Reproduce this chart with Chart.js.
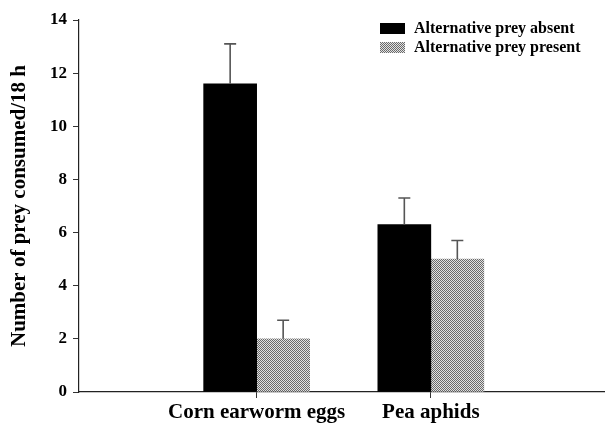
<!DOCTYPE html>
<html>
<head>
<meta charset="utf-8">
<script src="https://cdn.jsdelivr.net/npm/chart.js@4.4.1/dist/chart.umd.min.js"></script>
<style>
  body { margin: 0; background: #fff; }
  canvas { display: block; }
</style>
</head>
<body>
<canvas id="grafik" width="605" height="427"></canvas>
<script>
// Veriler
const categories = ['Corn earworm eggs', 'Pea aphids'];
const seriesNames = ['Alternative prey absent', 'Alternative prey present'];
const absentValues = [11.6, 6.3];
const absentErrors = [1.5, 1.0];
const presentValues = [2.0, 5.0];
const presentErrors = [0.7, 0.7];
const yTicks = [0, 2, 4, 6, 8, 10, 12, 14];

const serif = "'Liberation Serif', 'Times New Roman', serif";

// Noktalı gri desen
function noktaliDesen() {
    const c = document.createElement('canvas');
    c.width = 2;
    c.height = 2;
    const g = c.getContext('2d');
    g.fillStyle = '#e2e2e2';
    g.fillRect(0, 0, 2, 2);
    g.fillStyle = '#6a6a6a';
    g.fillRect(0, 0, 1, 1);
    g.fillRect(1, 1, 1, 1);
    return g.createPattern(c, 'repeat');
}

// Kategori sırası -> x değeri (1, 2)
function toPoints(values) {
    return values.map(function(v, i) { return { x: i + 1, y: v }; });
}

// Hata çubukları (sadece yukarı)
const hataCubuklari = {
    id: 'hataCubuklari',
    afterDatasetsDraw(chart) {
        const ctx = chart.ctx;
        const yScale = chart.scales.y;
        ctx.save();
        ctx.strokeStyle = '#555';
        ctx.lineWidth = 1.6;
        chart.data.datasets.forEach(function(ds, di) {
            const meta = chart.getDatasetMeta(di);
            meta.data.forEach(function(bar, i) {
                const top = yScale.getPixelForValue(ds.data[i].y + ds.errors[i]);
                ctx.beginPath();
                ctx.moveTo(bar.x, bar.y);
                ctx.lineTo(bar.x, top);
                ctx.moveTo(bar.x - 6, top);
                ctx.lineTo(bar.x + 6, top);
                ctx.stroke();
            });
        });
        ctx.restore();
    }
};

// Lejant (sağ üst)
const lejant = {
    id: 'lejant',
    afterDraw(chart) {
        const ctx = chart.ctx;
        ctx.save();
        ctx.font = 'bold 16px ' + serif;
        ctx.textBaseline = 'middle';
        chart.data.datasets.forEach(function(ds, di) {
            const y = 23 + di * 19;
            ctx.fillStyle = ds.backgroundColor;
            ctx.fillRect(380, y, 25, 11);
            ctx.fillStyle = '#000';
            ctx.fillText(ds.label, 414, y + 5.5);
        });
        ctx.restore();
    }
};

const ctx = document.getElementById('grafik').getContext('2d');

new Chart(ctx, {
    type: 'bar',
    data: {
        datasets: [
            {
                label: seriesNames[0],
                data: toPoints(absentValues),
                errors: absentErrors,
                backgroundColor: '#000',
                borderWidth: 0
            },
            {
                label: seriesNames[1],
                data: toPoints(presentValues),
                errors: presentErrors,
                backgroundColor: noktaliDesen(),
                borderWidth: 0
            }
        ]
    },
    options: {
        responsive: false,
        animation: false,
        barThickness: 53,
        layout: {
            padding: { top: 20, right: 0, bottom: 0, left: 0 }
        },
        plugins: {
            legend: { display: false },
            tooltip: { enabled: false }
        },
        scales: {
            x: {
                type: 'linear',
                offset: false,
                min: -0.02,
                max: 3,
                afterBuildTicks: function(scale) {
                    scale.ticks = categories.map(function(c, i) { return { value: i + 1 }; });
                },
                afterFit: function(scale) {
                    scale.height = 35;
                },
                grid: {
                    display: true,
                    offset: false,
                    drawOnChartArea: false,
                    drawTicks: true,
                    tickLength: 6,
                    color: '#333'
                },
                border: { display: true, color: '#222', width: 1.2 },
                ticks: {
                    autoSkip: false,
                    maxRotation: 0,
                    padding: 2,
                    color: '#000',
                    font: { family: serif, size: 21, weight: 'bold' },
                    callback: function(value) {
                        return categories[value - 1] || '';
                    }
                }
            },
            y: {
                min: 0,
                max: 14,
                afterBuildTicks: function(scale) {
                    scale.ticks = yTicks.map(function(v) { return { value: v }; });
                },
                afterFit: function(scale) {
                    scale.width = 79;
                },
                grid: {
                    display: true,
                    drawOnChartArea: false,
                    drawTicks: true,
                    tickLength: 6,
                    color: '#333'
                },
                border: { display: true, color: '#222', width: 1.2 },
                ticks: {
                    padding: 6,
                    color: '#000',
                    font: { family: serif, size: 17, weight: 'bold' }
                },
                title: {
                    display: true,
                    text: 'Number of prey consumed/18 h',
                    color: '#000',
                    padding: { top: 7, bottom: 0 },
                    font: { family: serif, size: 21, weight: 'bold' }
                }
            }
        }
    },
    plugins: [hataCubuklari, lejant]
});
</script>
</body>
</html>
